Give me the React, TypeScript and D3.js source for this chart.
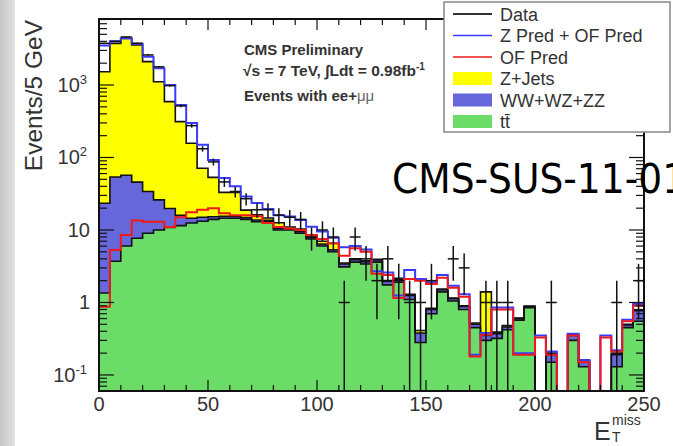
import React from "react";
import * as d3 from "d3";

// ---------- data ----------
const binLow = [0, 5, 10, 15, 20, 25, 30, 35, 40, 45, 50, 55, 60, 65, 70, 75, 80, 85, 90, 95,
  100, 105, 110, 115, 120, 125, 130, 135, 140, 145, 150, 155, 160, 165, 170, 175, 180, 185, 190, 195,
  200, 205, 210, 215, 220, 225, 230, 235, 240, 245];
const binWidth = 5;

const ttbar = [1.35, 3.7, 6, 7.7, 9, 10, 10.8, 11.5, 12.5, 13.2, 14, 14.5, 14.5, 14, 13, 13, 10, 10, 9, 7.5,
  6, 5, 3.1, 3.6, 3.4, 3.6, 1.75, 1.9, 1.1, 0.28, 0.7, 1.4, 1.05, 0.8, 0.45, 0.3, 0.32, 0.42, 0.57, 0.85,
  0, 0.15, 0, 0.3, 0.13, 0, 0, 0.13, 0.45, 0.55];
const diboson = [22, 50, 51, 38, 25, 16, 9, 4.5, 2, 1.8, 1.2, 1.0, 0.9, 0.8, 0.7, 0.6, 0.6, 0.5, 0.5, 0.4,
  0.4, 0.35, 0.3, 0.3, 0.25, 0.25, 0.2, 0.2, 0.15, 0.1, 0.1, 0.1, 0.08, 0.08, 0.05, 0.05, 0.05, 0.04, 0.03, 0.03,
  0, 0.04, 0, 0.05, 0.02, 0, 0, 0.06, 0.04, 0.22];
const zjets = [1500, 3700, 4340, 3510, 2070, 1085, 570, 296, 143, 56, 38, 17.5, 17.5, 4, 2.5, 1, 2, 0.5, 0.8, 0.5,
  0.6, 1.2, 0.1, 0.1, 0.1, 0.1, 0.05, 0.05, 0.05, 0.03, 0.03, 0.03, 0.02, 0.02, 0.02, 1.05, 0.02, 0.02, 0.01, 0.01,
  0, 0.01, 0, 0.01, 0.01, 0, 0, 0.01, 0.01, 0.02];
const dataCounts = [3760, 4000, 4600, 3760, 2600, 1780, 980, 515, 275, 132, 87, 46, 34, 27, 19, 19, 16, 15, 14, 8,
  10, 8, 1, 8, 4, 2, 4, 2, 1, 1, 2, 0, 4, 3, 0, 1, 1, 1, 0, 0,
  0, 1, 0, 0, 0, 0, 0, 1, 0, 2];
const zPredPlusOfPred = [3500, 4000, 4400, 3700, 2450, 1700, 1000, 530, 300, 150, 92, 52, 40, 29, 23.5, 19.5, 16, 15.3, 13.7, 11.1,
  9.5, 7.8, 5.8, 6.0, 5.4, 2.7, 2.6, 1.25, 2.8, 2.1, 1.9, 2.4, 1.7, 1.3, 0.19, 0.38, 0.85, 0.85, 0.2, 0.2,
  0.35, 0.21, 0, 0.37, 0.16, 0, 0.35, 0.22, 0.58, 0.95];
const ofPred = [0.87, 5.3, 8.5, 13.5, 13, 13, 11, 15, 17.5, 19, 20, 17, 16, 16, 15.5, 12.5, 11, 10.5, 10, 8.5,
  7.5, 6.5, 4.4, 5.6, 5, 2.5, 2.4, 1.15, 2.1, 2.0, 1.8, 2.2, 1.6, 1.2, 0.18, 0.36, 0.8, 0.8, 0.19, 0.19,
  0.33, 0.19, 0, 0.35, 0.15, 0, 0.33, 0.21, 0.55, 0.9];

const xTickValues = [0, 50, 100, 150, 200, 250];
const yTickLabels = [
  { v: 0.1, base: "10", exp: "-1" },
  { v: 1, base: "1", exp: "" },
  { v: 10, base: "10", exp: "" },
  { v: 100, base: "10", exp: "2" },
  { v: 1000, base: "10", exp: "3" },
];
const legendLabels = ["Data", "Z Pred + OF Pred", "OF Pred", "Z+Jets", "WW+WZ+ZZ", "tt\u0304"];

// ---------- styling ----------
const C_YELLOW = "#ffff00";
const C_PURPLE = "#6767dc";
const C_GREEN = "#6bdc67";
const C_RED = "#f01818";
const C_BLUE = "#3a3aff";
const FONT = "'Liberation Sans', Arial, Helvetica, sans-serif";

export default function App() {
  const W = 673, H = 446;
  const L = 99, R = 644, T = 19, B = 391;
  const yMin = 0.0601, yMax = 8136;
  const x = d3.scaleLinear().domain([0, 250]).range([L, R]);
  const y = d3.scaleLog().domain([yMin, yMax]).range([B, T]);
  const yc = (v: number) => y(Math.max(v, yMin));

  const stepPts = (vals: number[]) =>
    vals.flatMap((v, i) => [
      [x(binLow[i]), yc(v)] as [number, number],
      [x(binLow[i] + binWidth), yc(v)] as [number, number],
    ]);
  const line = d3.line();
  const area = d3.area<[number, number]>().x((d) => d[0]).y0(B).y1((d) => d[1]);

  const greenTop = ttbar;
  const purpleTop = ttbar.map((v, i) => v + diboson[i]);
  const yellowTop = purpleTop.map((v, i) => v + zjets[i]);

  // ticks
  const yMajor = [0.1, 1, 10, 100, 1000];
  const yMinor: number[] = [];
  for (let e = -2; e <= 3; e++) {
    for (let m = 2; m <= 9; m++) {
      const v = m * Math.pow(10, e);
      if (v > yMin && v < yMax) yMinor.push(v);
    }
  }
  const xMinor = d3.range(0, 251, 10);

  const legendRowY = [14, 35.5, 57, 78.5, 100, 121.5];

  return (
    <div style={{ position: "absolute", left: 0, top: 0 }}>
      <svg width={W} height={H} style={{ display: "block", background: "#fff" }}>
        <defs>
          <linearGradient id="strip" x1="0" x2="1" y1="0" y2="0">
            <stop offset="0" stopColor="#c4c4c4" />
            <stop offset="1" stopColor="#e2e2e2" />
          </linearGradient>
          <clipPath id="plot">
            <rect x={L} y={T} width={R - L} height={B - T} />
          </clipPath>
        </defs>
        <rect x={0} y={0} width={15} height={H} fill="url(#strip)" />

        <g clipPath="url(#plot)">
          {/* stacked fills */}
          <path d={area(stepPts(yellowTop)) || ""} fill={C_YELLOW} />
          <path d={area(stepPts(purpleTop)) || ""} fill={C_PURPLE} />
          <path d={area(stepPts(greenTop)) || ""} fill={C_GREEN} />
          {/* outlines */}
          <path d={line(stepPts(yellowTop)) || ""} fill="none" stroke="#111" strokeWidth={1.6} />
          <path d={line(stepPts(purpleTop)) || ""} fill="none" stroke="#111" strokeWidth={1.6} />
          <path d={line(stepPts(greenTop)) || ""} fill="none" stroke="#111" strokeWidth={1.6} />
          {/* predictions */}
          <path d={line(stepPts(zPredPlusOfPred)) || ""} fill="none" stroke={C_BLUE} strokeWidth={2} />
          <path d={line(stepPts(ofPred)) || ""} fill="none" stroke={C_RED} strokeWidth={2} />
          {/* data points */}
          {dataCounts.map((n, i) => {
            if (n <= 0) return null;
            const cx = x(binLow[i] + binWidth / 2);
            const e = Math.sqrt(n);
            return (
              <g key={i} stroke="#111" strokeWidth={1.5}>
                <line x1={x(binLow[i])} x2={x(binLow[i] + binWidth)} y1={yc(n)} y2={yc(n)} />
                <line x1={cx} x2={cx} y1={yc(n - e)} y2={yc(n + e)} />
              </g>
            );
          })}
        </g>

        {/* frame and ticks */}
        <g stroke="#111" strokeWidth={1.2}>
          {yMajor.map((v) => (
            <g key={"M" + v}>
              <line x1={L} x2={L + 15} y1={y(v)} y2={y(v)} />
              <line x1={R} x2={R - 15} y1={y(v)} y2={y(v)} />
            </g>
          ))}
          {yMinor.map((v) => (
            <g key={"m" + v}>
              <line x1={L} x2={L + 8} y1={y(v)} y2={y(v)} />
              <line x1={R} x2={R - 8} y1={y(v)} y2={y(v)} />
            </g>
          ))}
          {xMinor.map((v) => {
            const len = v % 50 === 0 ? 11 : 6;
            return (
              <g key={"x" + v}>
                <line x1={x(v)} x2={x(v)} y1={B} y2={B - len} />
                <line x1={x(v)} x2={x(v)} y1={T} y2={T + len} />
              </g>
            );
          })}
        </g>
        <rect x={L} y={T} width={R - L} height={B - T} fill="none" stroke="#111" strokeWidth={2} />

        {/* tick labels */}
        <g fontFamily={FONT} fill="#333" fontSize={20}>
          {xTickValues.map((v) => (
            <text key={v} x={x(v)} y={411} textAnchor="middle">{v}</text>
          ))}
          {yTickLabels.map((t) => (
            <text key={t.v} x={t.exp ? 87 : 90} y={y(t.v) + 7} textAnchor="end">
              {t.base}
              {t.exp ? <tspan dy={-8} fontSize={13}>{t.exp}</tspan> : null}
            </text>
          ))}
        </g>

        {/* axis titles */}
        <text transform="translate(42,20) rotate(-90)" textAnchor="end" fontFamily={FONT} fontSize={24.5} fill="#333">
          Events/5 GeV
        </text>
        <g fontFamily={FONT} fill="#333">
          <text x={594} y={440} fontSize={25}>E</text>
          <text x={612} y={425} fontSize={14}>miss</text>
          <text x={612} y={442} fontSize={14}>T</text>
        </g>

        {/* CMS text */}
        <g fontFamily={FONT} fontWeight="bold" fill="#333" fontSize={15}>
          <text x={244} y={55}>CMS Preliminary</text>
          <text x={243} y={76} fontSize={15.5}>
            {"\u221As = 7 TeV, \u222BLdt = 0.98fb"}
            <tspan dy={-6} fontSize={10}>-1</tspan>
          </text>
          <text x={244} y={101}>
            Events with ee+<tspan fontWeight="normal" fill="#666">{"\u03BC\u03BC"}</tspan>
          </text>
        </g>

        {/* legend */}
        <rect x={444} y={2} width={226} height={130} fill="#fff" stroke="#888" strokeWidth={1.5} />
        <g fontFamily={FONT} fontSize={18} fill="#333">
          {legendLabels.map((lab, i) => {
            const ry = legendRowY[i];
            let sample = null;
            if (i === 0) sample = <line x1={453} x2={492} y1={ry} y2={ry} stroke="#333" strokeWidth={2} />;
            if (i === 1) sample = <line x1={453} x2={492} y1={ry} y2={ry} stroke={C_BLUE} strokeWidth={1.5} />;
            if (i === 2) sample = <line x1={453} x2={492} y1={ry} y2={ry} stroke={C_RED} strokeWidth={1.5} />;
            if (i === 3) sample = <rect x={453} y={ry - 6.5} width={39} height={13} fill={C_YELLOW} />;
            if (i === 4) sample = <rect x={453} y={ry - 6.5} width={39} height={13} fill={C_PURPLE} />;
            if (i === 5) sample = <rect x={453} y={ry - 6.5} width={39} height={13} fill={C_GREEN} />;
            return (
              <g key={lab}>
                {sample}
                <text x={500} y={ry + 6.5}>{lab}</text>
              </g>
            );
          })}
        </g>

        {/* overlay slide label (runs off the right edge as in the reference) */}
        <text transform="translate(392,193) scale(0.94,1)" fontFamily="'DejaVu Sans', Verdana, sans-serif" fontSize={40} fill="#000">
          CMS-SUS-11-011
        </text>
      </svg>
    </div>
  );
}
